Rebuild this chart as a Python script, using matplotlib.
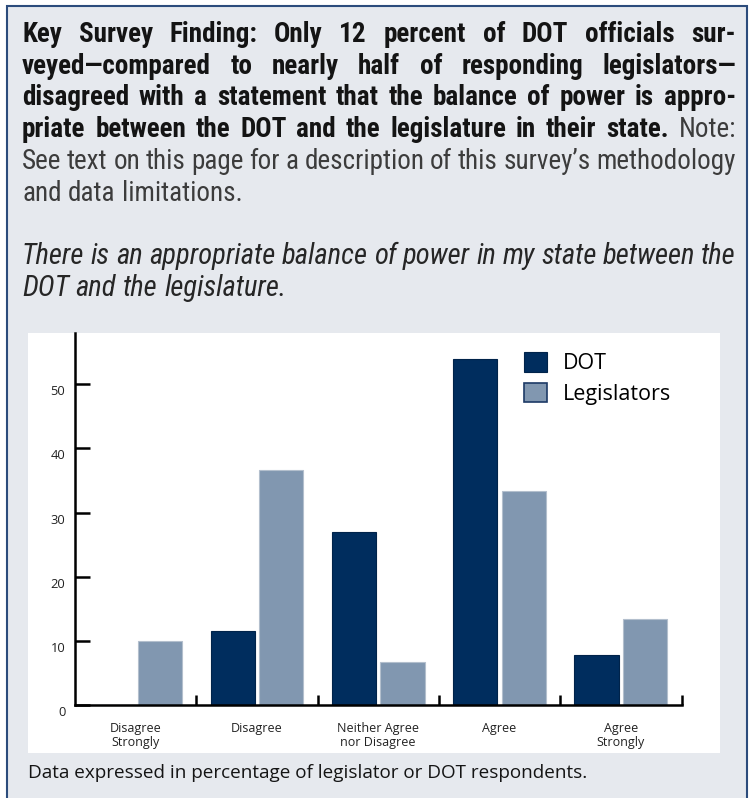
import numpy as np
import matplotlib
matplotlib.use("Agg")
import matplotlib.pyplot as plt
from matplotlib import font_manager
from matplotlib.patches import Rectangle
from matplotlib.transforms import ScaledTranslation

# data (percent of respondents)
categories = ["Disagree\nStrongly", "Disagree", "Neither Agree\nnor Disagree", "Agree", "Agree\nStrongly"]
dot_values = [0, 11.6, 27.0, 54.0, 7.8]
leg_values = [10.0, 36.7, 6.7, 33.3, 13.4]
series_names = ["DOT", "Legislators"]
y_ticks = [0, 10, 20, 30, 40, 50]

heading_lines = [
    [("Key Survey Finding: Only 12 percent of DOT officials sur-", "b")],
    [("veyed\u2014compared to nearly half of responding legislators\u2014", "b")],
    [("disagreed with a statement that the balance of power is appro-", "b")],
    [("priate between the DOT and the legislature in their state.", "b"), ("Note:", "r")],
    [("See text on this page for a description of this survey\u2019s methodology", "r")],
    [("and data limitations.", "r")],
]
question_lines = [
    "There is an appropriate balance of power in my state between the",
    "DOT and the legislature.",
]
footnote = "Data expressed in percentage of legislator or DOT respondents."

DOT_COLOR = "#002d5e"
LEG_COLOR = "#8197b0"
BG = "#e6e9ee"
BORDER = "#2c4c7c"

installed = {f.name for f in font_manager.fontManager.ttflist}


def pick(*names):
    for n in names:
        if n in installed:
            return n
    return None


# a narrow face is closest to the condensed type of the original
NARROW = pick("Liberation Sans Narrow", "Roboto Condensed", "Open Sans Condensed",
              "Noto Sans Condensed", "Noto Sans SemiCondensed", "DejaVu Sans Condensed")
if NARROW is None:
    narrow_any = sorted(n for n in installed
                        if ("Narrow" in n or "Condensed" in n) and "Mono" not in n and "Serif" not in n)
    NARROW = narrow_any[0] if narrow_any else "Open Sans"
SANS = pick("Open Sans", "Noto Sans", "Lato") or "DejaVu Sans"

W, H = 749, 798
fig = plt.figure(figsize=(W / 100, H / 100), dpi=100)
fig.patch.set_facecolor("white")
renderer = fig.canvas.get_renderer()


def fx(px):
    return px / W


def fy(py):
    return 1 - py / H


# gray box with blue border (open at the bottom)
fig.patches.append(Rectangle((fx(7), fy(H + 20)), fx(747) - fx(7), fy(6) - fy(H + 20),
                             transform=fig.transFigure, facecolor=BG, edgecolor=BORDER,
                             linewidth=1.5, zorder=0))
# white chart panel
fig.patches.append(Rectangle((fx(28), fy(753)), fx(720) - fx(28), fy(333) - fy(753),
                             transform=fig.transFigure, facecolor="white", edgecolor="none",
                             zorder=1))

STYLES = {
    "b": dict(fontweight="bold", fontstyle="normal", color="#141414"),
    "r": dict(fontweight="normal", fontstyle="normal", color="#3c3c3c"),
    "i": dict(fontweight="normal", fontstyle="italic", color="#262626"),
}


def width_of(s, size, st, family):
    t = fig.text(0, 0, s, fontsize=size, family=family, **STYLES[st])
    w = t.get_window_extent(renderer).width
    t.remove()
    return w


def split_words(line):
    words = []
    for seg, st in line:
        for w in seg.split(" "):
            words.append((w, st))
    return words


def space_width(size, family):
    return width_of("a a", size, "r", family) - 2 * width_of("a", size, "r", family)


def natural_width(words, size, family):
    total = sum(width_of(w, size, st, family) for w, st in words)
    return total + (len(words) - 1) * space_width(size, family)


X0, X1 = 22, 736


def fit_size(lines, family):
    best = 100
    for ln in lines:
        words = split_words(ln)
        best = min(best, 10 * (X1 - X0) / natural_width(words, 10, family))
    return best


def draw_line(words, size, baseline, justify, family):
    widths = [width_of(w, size, st, family) for w, st in words]
    if justify and len(words) > 1:
        gap = (X1 - X0 - sum(widths)) / (len(words) - 1)
    else:
        gap = space_width(size, family)
    x = X0
    for (w, st), wd in zip(words, widths):
        fig.text(fx(x), fy(baseline), w, fontsize=size, family=family,
                 ha="left", va="baseline", zorder=3, **STYLES[st])
        x += wd + gap


LINE = 31.8
BASE = 41.7
size_head = fit_size(heading_lines[2:5], NARROW)
for i, ln in enumerate(heading_lines):
    draw_line(split_words(ln), size_head, BASE + i * LINE, i < 5, NARROW)

q = [[(s, "i")] for s in question_lines]
size_q = fit_size(q[:1], NARROW)
for i, ln in enumerate(q):
    draw_line(split_words(ln), size_q, BASE + (7 + i) * LINE, i == 0, NARROW)

# chart
ax = fig.add_axes([fx(75), fy(705), fx(681.5) - fx(75), fy(333) - fy(705)])
ax.set_facecolor("none")
ax.set_zorder(2)
x = np.arange(len(categories))
bw = 0.365
ax.bar(x - 0.2, dot_values, bw, color=DOT_COLOR, edgecolor="#00234a", linewidth=0.8,
       label=series_names[0])
ax.bar(x + 0.2, leg_values, bw, color=LEG_COLOR, edgecolor="#b3bfcd", linewidth=0.8,
       label=series_names[1])
ax.set_xlim(-0.5, len(categories) - 0.5)
ax.set_ylim(0, 58)

for s in ["top", "right"]:
    ax.spines[s].set_visible(False)
for s in ["left", "bottom"]:
    ax.spines[s].set_linewidth(1.8)
    ax.spines[s].set_color("black")

ax.set_yticks(y_ticks)
ax.set_yticklabels([str(v) for v in y_ticks], fontsize=9.3, family=SANS, color="#222222")
ax.tick_params(axis="y", direction="in", length=11, width=1.8, pad=7)
for lab in ax.get_yticklabels():
    lab.set_transform(lab.get_transform() + ScaledTranslation(0, -6 / 100, fig.dpi_scale_trans))

ax.set_xticks(x)
ax.set_xticklabels(categories, fontsize=9, family=SANS, color="#222222", linespacing=1.15)
ax.tick_params(axis="x", which="major", length=0, pad=12)
ax.set_xticks(np.arange(len(categories)) + 0.5, minor=True)
ax.tick_params(axis="x", which="minor", direction="in", length=7.5, width=1.8)

leg = ax.legend(loc="upper left", bbox_to_anchor=(fx(524), fy(352)),
                bbox_transform=fig.transFigure, frameon=False,
                prop={"family": SANS, "size": 15.5}, handlelength=1.05, handleheight=1.05,
                handletextpad=0.75, labelspacing=0.38, borderpad=0, borderaxespad=0)
leg.legend_handles[1].set_edgecolor("#1d3a66")
leg.legend_handles[1].set_linewidth(1.2)

# footnote fitted to its width in the reference
fs = 10 * (587 - 28) / width_of(footnote, 10, "r", SANS)
fig.text(fx(28), fy(778), footnote, fontsize=fs, family=SANS, color="#141414",
         ha="left", va="baseline", zorder=3)

fig.savefig("out.png", dpi=100, facecolor="white")
